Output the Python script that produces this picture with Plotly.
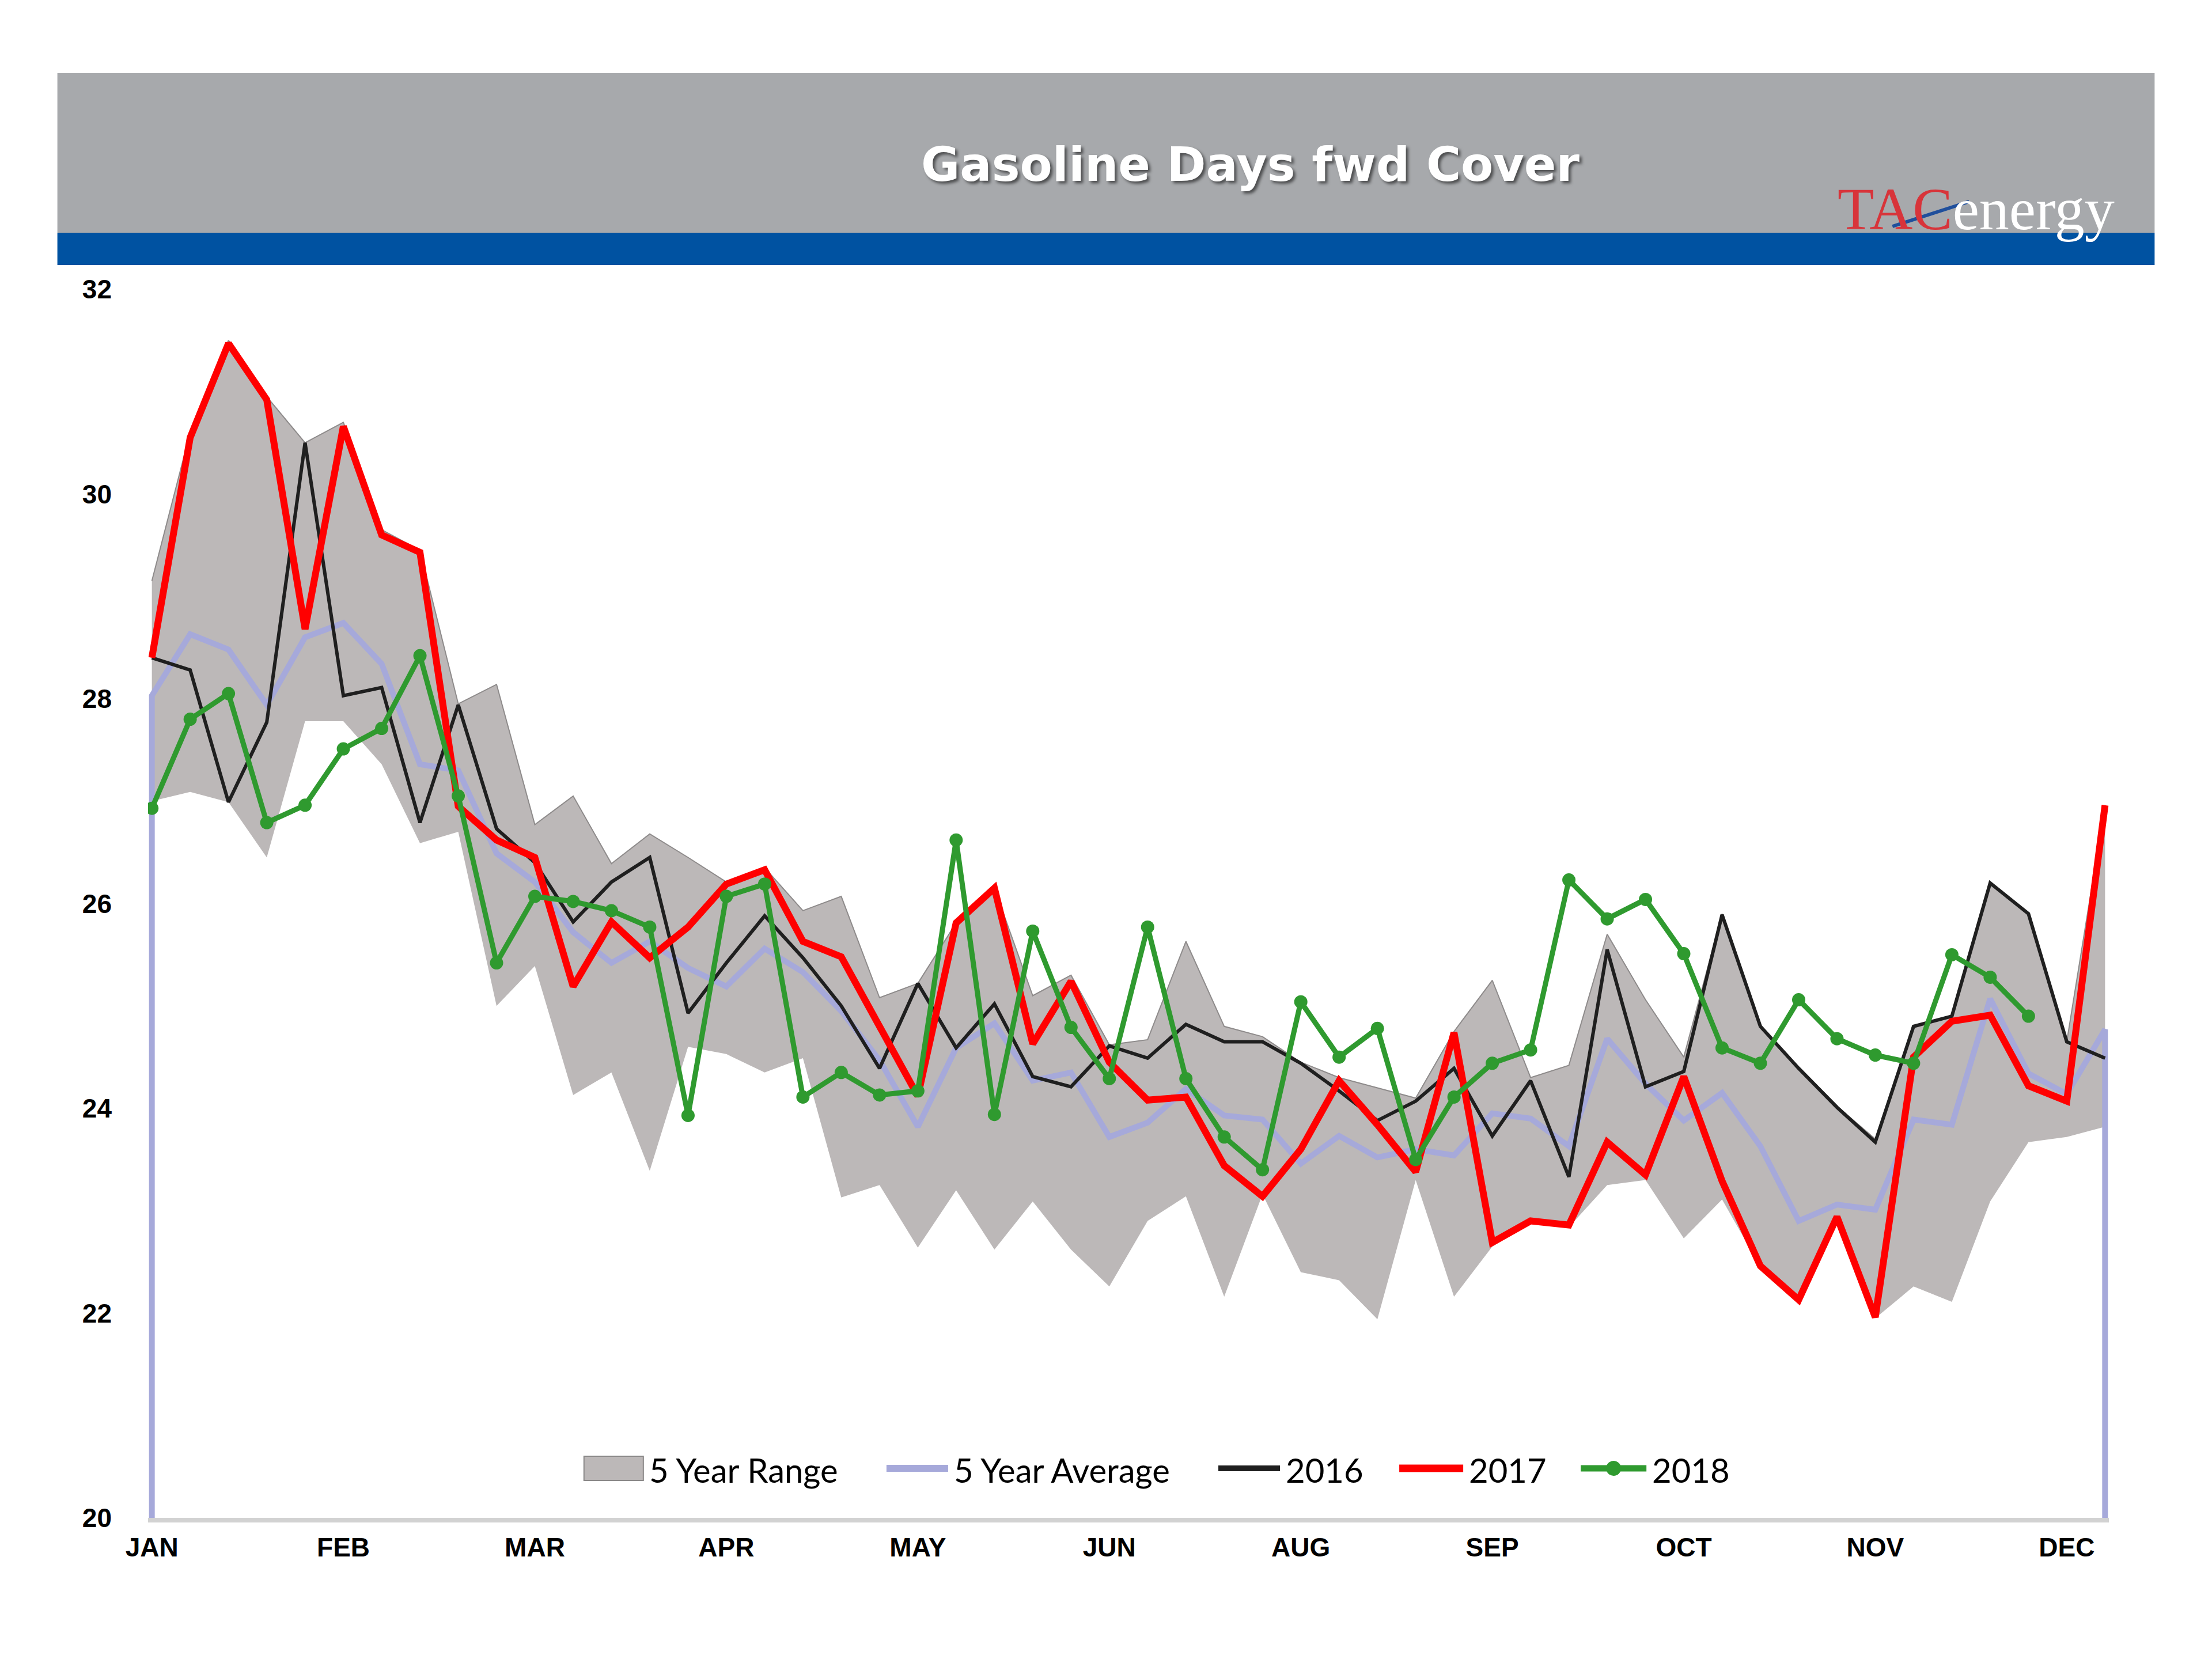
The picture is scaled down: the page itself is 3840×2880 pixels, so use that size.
import plotly.graph_objects as go

# ---------------- data ----------------
weeks = list(range(1, 53))
month_labels = ["JAN", "FEB", "MAR", "APR", "MAY", "JUN", "AUG", "SEP", "OCT", "NOV", "DEC"]
month_weeks = [1, 6, 11, 16, 21, 26, 31, 36, 41, 46, 51]
y_ticks = [20, 22, 24, 26, 28, 30, 32]

range_low = [27.00, 27.09, 26.99, 26.45, 27.78, 27.78, 27.36, 26.59, 26.70, 25.00,
             25.39, 24.13, 24.35, 23.39, 24.60, 24.53, 24.35, 24.49, 23.13, 23.25,
             22.64, 23.20, 22.62, 23.09, 22.62, 22.26, 22.90, 23.14, 22.16, 23.16,
             22.40, 22.32, 21.94, 23.30, 22.16, 22.65, 22.88, 22.84, 23.25, 23.30,
             22.73, 23.11, 22.45, 22.10, 22.90, 21.95, 22.26, 22.11, 23.09, 23.67,
             23.72, 23.82]
range_high = [29.15, 30.60, 31.50, 30.95, 30.50, 30.70, 29.65, 29.45, 27.95, 28.14,
              26.77, 27.05, 26.39, 26.68, 26.45, 26.21, 26.35, 25.93, 26.07, 25.08,
              25.22, 25.81, 26.15, 25.10, 25.30, 24.62, 24.67, 25.63, 24.80, 24.70,
              24.45, 24.30, 24.20, 24.10, 24.75, 25.25, 24.30, 24.42, 25.70, 25.06,
              24.50, 25.90, 24.80, 24.40, 24.02, 23.70, 24.80, 24.90, 26.20, 25.90,
              24.65, 26.96]
avg5 = [28.03, 28.63, 28.48, 27.94, 28.60, 28.74, 28.34, 27.36, 27.30, 26.49,
        26.21, 25.72, 25.42, 25.63, 25.37, 25.19, 25.56, 25.33, 24.95, 24.47,
        23.82, 24.59, 24.83, 24.27, 24.35, 23.72, 23.86, 24.19, 23.93, 23.89,
        23.46, 23.73, 23.52, 23.60, 23.54, 23.95, 23.90, 23.63, 24.68, 24.24,
        23.88, 24.15, 23.63, 22.90, 23.06, 23.01, 23.89, 23.84, 25.07, 24.34,
        24.14, 24.77]
y2016 = [28.40, 28.28, 26.99, 27.77, 30.50, 28.03, 28.11, 26.79, 27.94, 26.73,
         26.40, 25.82, 26.21, 26.45, 24.93, 25.42, 25.88, 25.47, 25.00, 24.39,
         25.22, 24.59, 25.02, 24.31, 24.21, 24.61, 24.49, 24.82, 24.65, 24.65,
         24.44, 24.17, 23.88, 24.07, 24.39, 23.73, 24.27, 23.33, 25.55, 24.21,
         24.36, 25.89, 24.80, 24.39, 24.01, 23.67, 24.80, 24.90, 26.20, 25.90,
         24.65, 24.49]
y2017 = [28.40, 30.55, 31.47, 30.92, 28.68, 30.66, 29.60, 29.43, 26.95, 26.62,
         26.45, 25.19, 25.82, 25.47, 25.77, 26.19, 26.33, 25.63, 25.48, 24.79,
         24.12, 25.81, 26.15, 24.63, 25.24, 24.45, 24.08, 24.11, 23.44, 23.14,
         23.60, 24.27, 23.84, 23.38, 24.74, 22.69, 22.90, 22.86, 23.67, 23.35,
         24.31, 23.29, 22.46, 22.13, 22.94, 21.96, 24.50, 24.85, 24.91, 24.22,
         24.07, 26.96]
y2018 = [26.93, 27.80, 28.05, 26.79, 26.96, 27.51, 27.71, 28.42, 27.05, 25.42,
         26.07, 26.02, 25.93, 25.77, 23.93, 26.07, 26.19, 24.11, 24.35, 24.13,
         24.17, 26.62, 23.94, 25.73, 24.79, 24.29, 25.77, 24.29, 23.72, 23.40,
         25.04, 24.50, 24.78, 23.50, 24.11, 24.44, 24.57, 26.23, 25.85, 26.04,
         25.51, 24.59, 24.44, 25.06, 24.68, 24.52, 24.44, 25.50, 25.28, 24.90]

series_names = ["5 Year Range", "5 Year Average", "2016", "2017", "2018"]

# ---------------- styles ----------------
BAND_FILL = "#BCB8B8"
BAND_EDGE = "#8E8B8B"
AVG_COLOR = "#A6A9DA"
C2016 = "#1F1F1F"
C2017 = "#FF0000"
C2018 = "#2F9A2F"

# ---------------- layout geometry (reference pixels) ----------------
W, H = 3840, 2880
BODY = 8  # default page margin of the html body
X_PAD = 0.1
PX_PER_WEEK = 66.4
PLOT_L = 264 - X_PAD * PX_PER_WEEK
PLOT_R = 3654 + X_PAD * PX_PER_WEEK
PLOT_T, PLOT_B = 502, 2635
PW, PH = PLOT_R - PLOT_L, PLOT_B - PLOT_T


def fx(px):
    return (px - PLOT_L) / PW


def fy(py):
    return (PLOT_B - py) / PH


fig = go.Figure()

# 5 year range band
fig.add_trace(go.Scatter(x=weeks, y=range_low, mode="lines",
                         line=dict(width=0, color="rgba(0,0,0,0)"),
                         showlegend=False, hoverinfo="skip"))
fig.add_trace(go.Scatter(x=weeks, y=range_high, mode="lines", fill="tonexty",
                         fillcolor=BAND_FILL, line=dict(color=BAND_EDGE, width=2),
                         name=series_names[0]))

# 5 year average (area-style outline dropping to the axis floor at both ends)
fig.add_trace(go.Scatter(x=[weeks[0]] + weeks + [weeks[-1]],
                         y=[y_ticks[0]] + avg5 + [y_ticks[0]],
                         mode="lines", line=dict(color=AVG_COLOR, width=10),
                         name=series_names[1]))

fig.add_trace(go.Scatter(x=weeks, y=y2016, mode="lines",
                         line=dict(color=C2016, width=6), name=series_names[2]))
fig.add_trace(go.Scatter(x=weeks, y=y2017, mode="lines",
                         line=dict(color=C2017, width=12), name=series_names[3]))
fig.add_trace(go.Scatter(x=weeks[:len(y2018)], y=y2018, mode="lines+markers",
                         line=dict(color=C2018, width=9),
                         marker=dict(color=C2018, size=23), name=series_names[4]))

tick_font = dict(family="Liberation Sans, Arial, sans-serif", size=46,
                 color="black", weight="bold")

fig.update_layout(
    width=W, height=H,
    margin=dict(l=PLOT_L - BODY, r=W - PLOT_R + BODY, t=PLOT_T - BODY,
                b=H - PLOT_B + BODY, autoexpand=False),
    paper_bgcolor="white", plot_bgcolor="white",
    xaxis=dict(range=[weeks[0] - X_PAD, weeks[-1] + X_PAD], tickmode="array",
               tickvals=month_weeks, ticktext=month_labels, showgrid=False,
               zeroline=False, showline=True, linecolor="#D2D2D2", linewidth=8,
               ticks="", tickfont=tick_font, ticklabelstandoff=4),
    yaxis=dict(range=[y_ticks[0], y_ticks[-1]], tickmode="array", tickvals=y_ticks,
               showgrid=False, zeroline=False, showline=False, ticks="",
               tickfont=tick_font, ticklabelstandoff=62),
    showlegend=False,
)

# header banner
fig.add_shape(type="rect", xref="paper", yref="paper", x0=fx(100), x1=fx(3740),
              y0=fy(404), y1=fy(127), fillcolor="#A7A9AC", line=dict(width=0),
              layer="below")
fig.add_shape(type="rect", xref="paper", yref="paper", x0=fx(100), x1=fx(3740),
              y0=fy(460), y1=fy(404), fillcolor="#0052A1", line=dict(width=0),
              layer="below")

fig.add_annotation(text="Gasoline Days fwd Cover", xref="paper", yref="paper",
                   x=fx(2170), y=fy(285), xanchor="center", yanchor="middle",
                   showarrow=False,
                   font=dict(family="DejaVu Sans, sans-serif", size=82, color="white",
                             weight="bold", shadow="4px 4px 5px rgba(0,0,0,0.55)"))

# logo
fig.add_annotation(text="<span style='color:#D8343A'>TAC</span>energy",
                   xref="paper", yref="paper", x=fx(3430), y=fy(362),
                   xanchor="center", yanchor="middle", showarrow=False,
                   font=dict(family="Liberation Serif, Times New Roman, serif",
                             size=104, color="white"))
fig.add_shape(type="line", xref="paper", yref="paper", x0=fx(3285), y0=fy(393),
              x1=fx(3418), y1=fy(350), line=dict(color="#1F4F9C", width=6),
              layer="above")

# ---------------- legend (drawn inside the plot, like the original) ----------------
LEG_Y = 2549
leg_font = dict(family="Lato, Open Sans, sans-serif", size=58, color="black")
# symbols: (kind, x_start, x_end, colour, width)
leg_items = [
    ("box", 1014, 1117, BAND_FILL, 0),
    ("line", 1539, 1646, AVG_COLOR, 12),
    ("line", 2115, 2222, C2016, 10),
    ("line", 2429, 2540, C2017, 13),
    ("line", 2744, 2858, C2018, 11),
]
for (kind, xs, xe, col, lw), name in zip(leg_items, series_names):
    if kind == "box":
        fig.add_shape(type="rect", xref="paper", yref="paper",
                      x0=fx(xs), x1=fx(xe), y0=fy(LEG_Y + 21), y1=fy(LEG_Y - 21),
                      fillcolor=col, line=dict(color="#8A8888", width=2))
    else:
        fig.add_shape(type="line", xref="paper", yref="paper",
                      x0=fx(xs), x1=fx(xe), y0=fy(LEG_Y), y1=fy(LEG_Y),
                      line=dict(color=col, width=lw))
    if name == series_names[4]:
        cx = (xs + xe) / 2
        fig.add_shape(type="circle", xref="paper", yref="paper",
                      x0=fx(cx - 13), x1=fx(cx + 13), y0=fy(LEG_Y + 13),
                      y1=fy(LEG_Y - 13), fillcolor=col, line=dict(width=0))
    fig.add_annotation(text=name, xref="paper", yref="paper", x=fx(xe + 8),
                       y=fy(LEG_Y + 2), xanchor="left", yanchor="middle",
                       showarrow=False, font=leg_font)

fig.write_html("out.html")
